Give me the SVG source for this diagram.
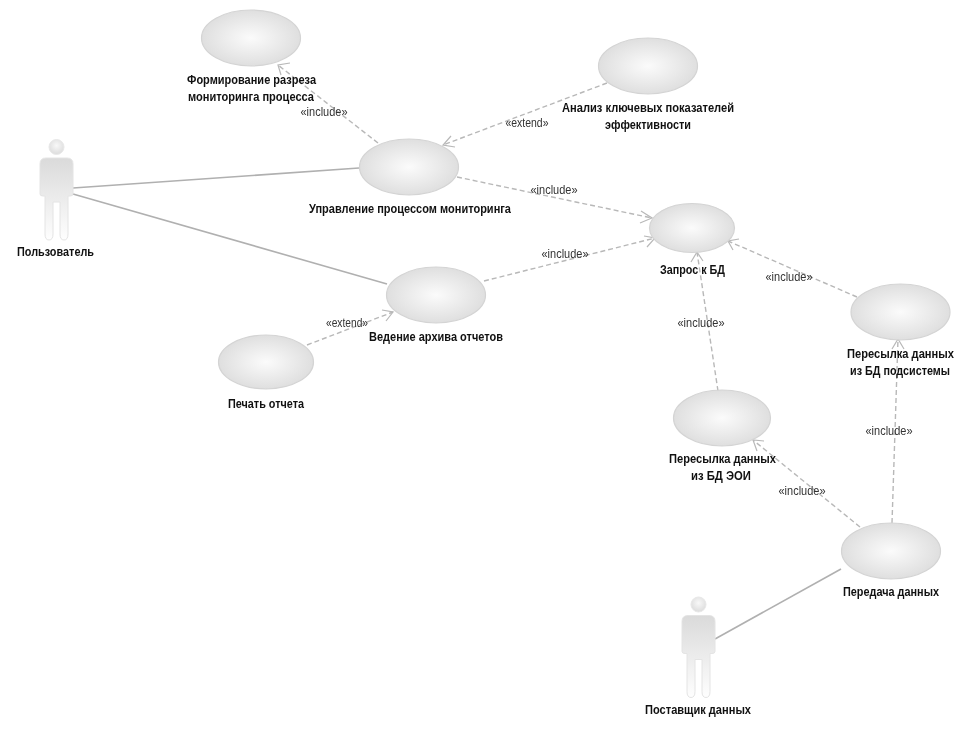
<svg xmlns="http://www.w3.org/2000/svg" width="973" height="732" viewBox="0 0 973 732">
<style>
.uc{fill:url(#ucg);stroke:#d4d4d4;stroke-width:1.2}
.act{fill:url(#actg);stroke:#e4e4e4;stroke-width:1}
.t{font-family:"Liberation Sans",sans-serif;font-weight:700;font-size:13px;fill:#111;text-anchor:middle;filter:grayscale(1)}
.l{font-family:"Liberation Sans",sans-serif;font-size:12px;fill:#333;text-anchor:middle;filter:grayscale(1)}
.solid{stroke:#b0b0b0;stroke-width:1.6;fill:none}
.dash{stroke:#b8b8b8;stroke-width:1.4;stroke-dasharray:5 3;fill:none}
.head{stroke:#b8b8b8;stroke-width:1.2;fill:none}
</style>
<defs>
<radialGradient id="ucg" cx="50%" cy="50%" r="55%"><stop offset="0" stop-color="#fbfbfb"/><stop offset="1" stop-color="#dcdcdc"/></radialGradient>
<linearGradient id="actg" x1="0" y1="0" x2="0" y2="1"><stop offset="0" stop-color="#dadada"/><stop offset="0.5" stop-color="#ececec"/><stop offset="1" stop-color="#fefefe"/></linearGradient>
<radialGradient id="headg" cx="50%" cy="40%" r="60%"><stop offset="0" stop-color="#f8f8f8"/><stop offset="1" stop-color="#dcdcdc"/></radialGradient>
<g id="actor">
<circle cx="16.500" cy="-11" r="7.500" fill="url(#headg)" stroke="#e8e8e8"/>
<path class="act" d="M6 0H27Q33 0 33 6V36Q33 38 30 38H28V76Q28 82 24 82Q20 82 20 76V44H13V76Q13 82 9 82Q5 82 5 76V38H3Q0 38 0 36V6Q0 0 6 0Z"/>
</g>
</defs>
<rect width="973" height="732" fill="#fff"/>
<g id="connectors">
<path class="solid" d="M73 188L359 168"/>
<path class="solid" d="M73 194L387 284"/>
<path class="solid" d="M715 639L841 569"/>
<path class="dash" d="M378 143L278 65"/>
<path class="head" d="M290 63L278 65L281 75"/>
<path class="dash" d="M607 83L443 145"/>
<path class="head" d="M451 136L443 145L455 147"/>
<path class="dash" d="M457 177L652 218"/>
<path class="head" d="M641 211L652 218L640 223"/>
<path class="dash" d="M484 281L655 238"/>
<path class="head" d="M644 236L655 238L647 247"/>
<path class="dash" d="M857 297L728 241"/>
<path class="head" d="M739 239L728 241L733 250"/>
<path class="dash" d="M718 391L697 252"/>
<path class="head" d="M691 262L697 252L703 261"/>
<path class="dash" d="M892 523L898 339"/>
<path class="head" d="M892 349L898 339L904 349"/>
<path class="dash" d="M860 527L753 440"/>
<path class="head" d="M764 441L753 440L757 451"/>
<path class="dash" d="M307 345L393 312"/>
<path class="head" d="M382 310L393 312L386 321"/>
</g>
<g id="uc-formirovanie"><ellipse class="uc" cx="251" cy="38" rx="49.500" ry="28"/><text class="t" x="251.500" y="84" textLength="129" lengthAdjust="spacingAndGlyphs">Формирование разреза</text><text class="t" x="251" y="101" textLength="126" lengthAdjust="spacingAndGlyphs">мониторинга процесса</text></g>
<g id="uc-analiz"><ellipse class="uc" cx="648" cy="66" rx="49.500" ry="28"/><text class="t" x="648" y="112" textLength="172" lengthAdjust="spacingAndGlyphs">Анализ ключевых показателей</text><text class="t" x="648" y="129" textLength="86" lengthAdjust="spacingAndGlyphs">эффективности</text></g>
<g id="uc-upravlenie"><ellipse class="uc" cx="409" cy="167" rx="49.500" ry="28"/><text class="t" x="410" y="213" textLength="202" lengthAdjust="spacingAndGlyphs">Управление процессом мониторинга</text></g>
<g id="uc-zapros"><ellipse class="uc" cx="692" cy="228" rx="42.500" ry="24.500"/><text class="t" x="692.500" y="274" textLength="65" lengthAdjust="spacingAndGlyphs">Запрос к БД</text></g>
<g id="uc-vedenie"><ellipse class="uc" cx="436" cy="295" rx="49.500" ry="28"/><text class="t" x="436" y="341" textLength="134" lengthAdjust="spacingAndGlyphs">Ведение архива отчетов</text></g>
<g id="uc-pechat"><ellipse class="uc" cx="266" cy="362" rx="47.500" ry="27"/><text class="t" x="266" y="408" textLength="76" lengthAdjust="spacingAndGlyphs">Печать отчета</text></g>
<g id="uc-peresylka-pod"><ellipse class="uc" cx="900.500" cy="312" rx="49.500" ry="28"/><text class="t" x="900.500" y="358" textLength="107" lengthAdjust="spacingAndGlyphs">Пересылка данных</text><text class="t" x="900" y="375" textLength="100" lengthAdjust="spacingAndGlyphs">из БД подсистемы</text></g>
<g id="uc-peresylka-eoi"><ellipse class="uc" cx="722" cy="418" rx="48.500" ry="28"/><text class="t" x="722.500" y="463" textLength="107" lengthAdjust="spacingAndGlyphs">Пересылка данных</text><text class="t" x="721" y="480" textLength="60" lengthAdjust="spacingAndGlyphs">из БД ЭОИ</text></g>
<g id="uc-peredacha"><ellipse class="uc" cx="891" cy="551" rx="49.500" ry="28"/><text class="t" x="891" y="596" textLength="96" lengthAdjust="spacingAndGlyphs">Передача данных</text></g>
<g id="actor-user"><use href="#actor" x="40" y="158"/><text class="t" x="55.500" y="256" textLength="77" lengthAdjust="spacingAndGlyphs">Пользователь</text></g>
<g id="actor-supplier"><use href="#actor" x="682" y="615.500"/><text class="t" x="698" y="714" textLength="106" lengthAdjust="spacingAndGlyphs">Поставщик данных</text></g>
<g id="labels">
<text class="l" x="324" y="116" textLength="47" lengthAdjust="spacingAndGlyphs">«include»</text>
<text class="l" x="527" y="127" textLength="43" lengthAdjust="spacingAndGlyphs">«extend»</text>
<text class="l" x="554" y="194" textLength="47" lengthAdjust="spacingAndGlyphs">«include»</text>
<text class="l" x="565" y="258" textLength="47" lengthAdjust="spacingAndGlyphs">«include»</text>
<text class="l" x="789" y="281" textLength="47" lengthAdjust="spacingAndGlyphs">«include»</text>
<text class="l" x="701" y="327" textLength="47" lengthAdjust="spacingAndGlyphs">«include»</text>
<text class="l" x="889" y="435" textLength="47" lengthAdjust="spacingAndGlyphs">«include»</text>
<text class="l" x="802" y="495" textLength="47" lengthAdjust="spacingAndGlyphs">«include»</text>
<text class="l" x="347" y="327" textLength="42" lengthAdjust="spacingAndGlyphs">«extend»</text>
</g>
</svg>
